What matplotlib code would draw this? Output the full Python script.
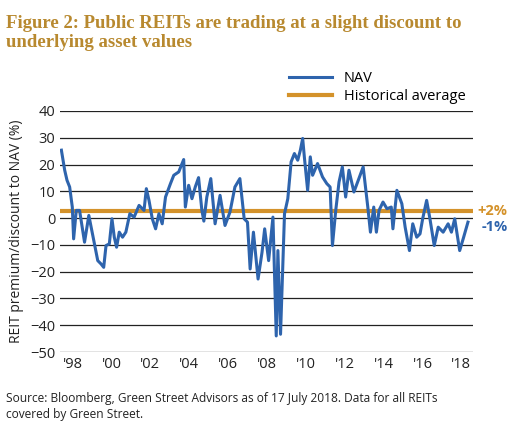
import numpy as np
import matplotlib.pyplot as plt

# zoom x px -> year, zoom y px -> value
zx = [5, 15, 22, 30, 38, 42, 50, 60, 75, 88, 100, 115, 125, 133, 140, 150, 158, 165, 172, 180,
      190, 200, 212, 225, 240, 255, 262, 270, 280, 290, 300, 310, 320, 335, 345, 360, 375, 380,
      390, 400, 410, 420, 430, 436, 445, 457, 470, 485, 500, 515, 530, 545, 558, 568, 576, 586,
      600, 612, 620, 632, 645, 655, 660, 668, 680, 690, 700, 710, 720, 728, 735, 740, 750, 758,
      765, 780, 795, 808, 818, 825, 835, 845, 855, 865, 875, 890, 905, 918, 932, 940, 950, 958,
      966, 978, 990, 1003, 1008, 1020, 1035, 1045, 1058, 1068, 1080, 1090, 1098, 1110, 1120,
      1133, 1145, 1160, 1175, 1185, 1195, 1210, 1222, 1235]
zy = [150, 210, 240, 260, 320, 415, 330, 330, 425, 345, 405, 480, 490, 500, 435, 430, 355, 410,
      440, 395, 410, 395, 340, 350, 315, 330, 265, 300, 355, 385, 340, 370, 290, 250, 225, 215,
      178, 320, 255, 295, 260, 232, 330, 362, 290, 235, 370, 285, 375, 335, 260, 235, 355, 365,
      505, 395, 535, 455, 385, 480, 350, 705, 450, 700, 340, 295, 185, 160, 180, 150, 115, 170,
      270, 170, 225, 190, 230, 250, 260, 435, 330, 245, 200, 290, 210, 275, 235, 200, 320, 395,
      320, 395, 330, 305, 325, 320, 385, 270, 310, 380, 450, 370, 410, 400, 355, 300, 355, 435,
      380, 395, 370, 395, 355, 450, 410, 365]
years = [1998 + (x - 39) / 58.8 for x in zx]
nav = [(353 - y) / 8 for y in zy]
hist_avg = 2.5

xticks = [1998, 2000, 2002, 2004, 2006, 2008, 2010, 2012, 2014, 2016, 2018]
xlabels = ["'98", "'00", "'02", "'04", "'06", "'08", "'10", "'12", "'14", "'16", "'18"]

blue = '#2e64ad'
gold = '#d4922a'
plt.rcParams['font.family'] = ['Open Sans', 'DejaVu Sans']

fig = plt.figure(figsize=(5.17, 4.3), dpi=100)
ax = fig.add_axes([60 / 517, 1 - 352 / 430, 413 / 517, 241 / 430])
ax.plot(years, nav, color=blue, lw=2.2, label='NAV', zorder=3)
ax.axhline(hist_avg, color=gold, lw=3, label='Historical average', zorder=2)
ax.set_ylim(-50, 40)
ax.set_xlim(1997.35, 2018.6)
ax.set_yticks(range(-50, 41, 10))
ax.set_xticks(xticks)
ax.set_xticklabels(xlabels)
ax.grid(axis='y', color='#222222', lw=0.9)
ax.set_axisbelow(True)
for s in ax.spines.values():
    s.set_visible(False)
ax.tick_params(length=0, labelsize=10.5, colors='#222222')
ax.set_ylabel('REIT premium/discount to NAV (%)', fontsize=10, color='#222222')

ax.text(1.01, (hist_avg + 50) / 90, '+2%', transform=ax.transAxes, color=gold,
        fontsize=10.5, fontweight='bold', va='center')
ax.text(1.02, (-3.5 + 50) / 90, '-1%', transform=ax.transAxes, color=blue,
        fontsize=10.5, fontweight='bold', va='center')

ax.legend(loc='lower right', bbox_to_anchor=(1.0, 1.0), frameon=False, fontsize=10.5,
          handlelength=3, borderaxespad=0.1, labelspacing=0.2)

fig.text(0.012, 0.965, 'Figure 2: Public REITs are trading at a slight discount to\nunderlying asset values',
         family='Liberation Serif', fontweight='bold', color='#b8892f', fontsize=13.5, va='top',
         linespacing=1.15)
fig.text(0.012, 0.088, 'Source: Bloomberg, Green Street Advisors as of 17 July 2018. Data for all REITs\ncovered by Green Street.',
         fontsize=8.6, color='#222222', va='top', linespacing=1.3)

fig.savefig('out.png', dpi=100)
